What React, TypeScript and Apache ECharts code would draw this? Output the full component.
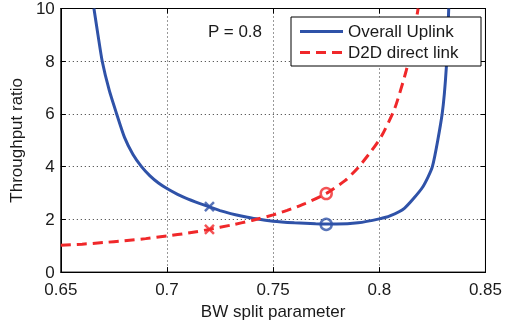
import React, { useEffect, useRef } from "react";
import * as echarts from "echarts";

const uplinkX = [0.6656, 0.6675, 0.6695, 0.6728, 0.6763, 0.68, 0.684, 0.688, 0.692, 0.696, 0.7004, 0.705, 0.71, 0.719, 0.725, 0.73, 0.735, 0.742, 0.75, 0.76, 0.77, 0.775, 0.78, 0.79, 0.8, 0.805, 0.8118, 0.8203, 0.825, 0.8296, 0.8316, 0.8327];
const uplinkY = [10, 9, 8, 6.9, 6.0, 5.11, 4.46, 4.0, 3.65, 3.38, 3.15, 2.95, 2.77, 2.5, 2.33, 2.22, 2.13, 2.02, 1.93, 1.87, 1.83, 1.82, 1.82, 1.87, 2.02, 2.13, 2.42, 3.21, 4.0, 6.0, 7.8, 10];

const d2dX = [0.65, 0.66, 0.67, 0.68, 0.69, 0.7, 0.71, 0.72, 0.73, 0.74, 0.75, 0.7566, 0.765, 0.775, 0.784, 0.79, 0.7963, 0.801, 0.8072, 0.8126, 0.8155, 0.8183];
const d2dY = [1.02, 1.06, 1.12, 1.19, 1.27, 1.37, 1.48, 1.62, 1.78, 1.96, 2.17, 2.34, 2.6, 2.98, 3.48, 3.96, 4.6, 5.15, 6.19, 7.62, 8.7, 10];

const uplinkCross = [0.72, 2.48];
const uplinkCircle = [0.775, 1.81];
const d2dCross = [0.72, 1.62];
const d2dCircle = [0.775, 2.98];

const legendNames = ["Overall Uplink", "D2D direct link"];
const annotation = "P = 0.8";

const xTicks = { min: 0.65, max: 0.85, interval: 0.05 };
const yTicks = { min: 0, max: 10, interval: 2 };

const BLUE = "#2f52a8";
const RED = "#f0282a";
const FONT = "Liberation Sans, Arial, Helvetica, sans-serif";
const TXT = "#1a1a1a";
const CROSS = "path://M0,0L10,10M10,0L0,10";

export default function App() {
  const ref = useRef<HTMLDivElement>(null);
  useEffect(() => {
    if (!ref.current) return;
    const chart = echarts.init(ref.current, undefined, { renderer: "svg" });
    const axisCommon = {
      axisLine: { show: true, onZero: false, lineStyle: { color: "#000", width: 1 } },
      axisTick: { show: true, inside: true, length: 5, lineStyle: { color: "#000" } },
    };
    const split = { show: true, lineStyle: { color: "#333", type: [1, 3], width: 1 } };
    chart.setOption({
      animation: false,
      textStyle: { fontFamily: FONT },
      grid: { left: 58, right: 16, top: 8, bottom: 49, show: true, borderColor: "#000", borderWidth: 1, backgroundColor: "#fff" },
      graphic: [
        { type: "text", left: 208, top: 23, z: 100, style: { text: annotation, fontSize: 17, fill: TXT, fontFamily: FONT } },
        {
          type: "group",
          z: 100,
          children: [
            { type: "rect", shape: { x: 291, y: 17, width: 190, height: 49 }, style: { fill: "#fff", stroke: "#000", lineWidth: 1 }, z: 100 },
            { type: "line", shape: { x1: 300, y1: 31.5, x2: 343, y2: 31.5 }, style: { stroke: BLUE, lineWidth: 3 }, z: 101 },
            { type: "line", shape: { x1: 300, y1: 52.5, x2: 343, y2: 52.5 }, style: { stroke: RED, lineWidth: 3, lineDash: [10, 6] }, z: 101 },
            { type: "text", x: 348, y: 31.5, z: 101, style: { text: legendNames[0], fontSize: 17, fill: TXT, fontFamily: FONT, verticalAlign: "middle" } },
            { type: "text", x: 348, y: 52.5, z: 101, style: { text: legendNames[1], fontSize: 17, fill: TXT, fontFamily: FONT, verticalAlign: "middle" } },
          ],
        },
      ],
      xAxis: [
        {
          type: "value",
          ...xTicks,
          position: "bottom",
          ...axisCommon,
          splitLine: split,
          axisLabel: { fontSize: 17, color: TXT, margin: 9, formatter: (v: number) => String(+v.toFixed(2)) },
          name: "BW split parameter",
          nameLocation: "middle",
          nameGap: 28,
          nameTextStyle: { fontSize: 17, color: TXT },
        },
        {
          type: "value",
          ...xTicks,
          position: "top",
          ...axisCommon,
          splitLine: { show: false },
          axisLabel: { show: false },
        },
      ],
      yAxis: [
        {
          type: "value",
          ...yTicks,
          position: "left",
          ...axisCommon,
          splitLine: split,
          axisLabel: { fontSize: 17, color: TXT, margin: 6 },
          name: "Throughput ratio",
          nameLocation: "middle",
          nameGap: 34,
          nameTextStyle: { fontSize: 17, color: TXT },
        },
        {
          type: "value",
          ...yTicks,
          position: "right",
          ...axisCommon,
          splitLine: { show: false },
          axisLabel: { show: false },
        },
      ],
      series: [
        {
          name: legendNames[0],
          type: "line",
          data: uplinkX.map((x, i) => [x, uplinkY[i]]),
          showSymbol: false,
          symbol: "none",
          smooth: 0.2,
          clip: true,
          lineStyle: { color: BLUE, width: 3 },
          itemStyle: { color: BLUE },
        },
        {
          name: legendNames[1],
          type: "line",
          data: d2dX.map((x, i) => [x, d2dY[i]]),
          showSymbol: false,
          symbol: "none",
          smooth: 0.2,
          clip: true,
          lineStyle: { color: RED, width: 3, type: [10, 6] },
          itemStyle: { color: RED },
        },
        {
          name: "uplink-cross",
          type: "scatter",
          data: [uplinkCross],
          symbol: CROSS,
          symbolSize: 9,
          itemStyle: { color: "none", borderColor: BLUE, borderWidth: 2.5 },
        },
        {
          name: "uplink-circle",
          type: "scatter",
          data: [uplinkCircle],
          symbol: "circle",
          symbolSize: 11,
          itemStyle: { color: "none", borderColor: BLUE, borderWidth: 2.5 },
        },
        {
          name: "d2d-cross",
          type: "scatter",
          data: [d2dCross],
          symbol: CROSS,
          symbolSize: 9,
          itemStyle: { color: "none", borderColor: RED, borderWidth: 2.5 },
        },
        {
          name: "d2d-circle",
          type: "scatter",
          data: [d2dCircle],
          symbol: "circle",
          symbolSize: 11,
          itemStyle: { color: "none", borderColor: RED, borderWidth: 2.5 },
        },
      ],
    });
    return () => chart.dispose();
  }, []);
  return <div ref={ref} style={{ width: 505, height: 325, position: "fixed", left: 0, top: 0 }} />;
}
